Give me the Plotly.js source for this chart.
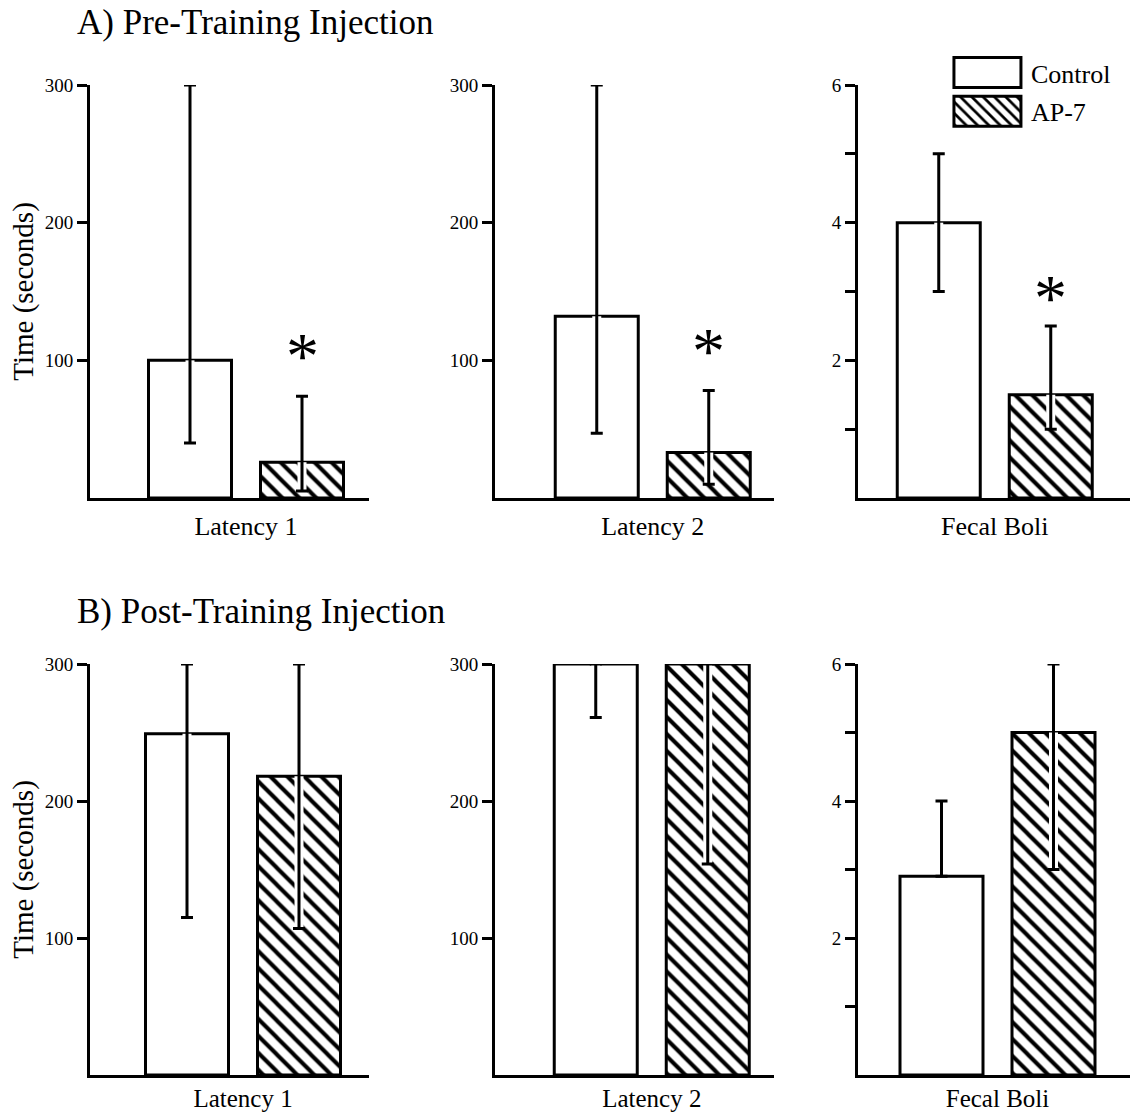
<!DOCTYPE html>
<html>
<head>
<meta charset="utf-8">
<script src="https://cdn.plot.ly/plotly-3.0.1.min.js"></script>
<style>
  html, body { margin: 0; padding: 0; background: #ffffff; overflow: hidden; }
  #chart { width: 1130px; height: 1116px; }
</style>
</head>
<body>
<div id="chart"></div>
<script>
// ---------------- data ----------------
const panels = ["Latency 1", "Latency 2", "Fecal Boli"];
const seriesNames = ["Control", "AP-7"];

// A) Pre-training injection: means, upper and lower ends of error bars
const preControl   = [100, 132, 4];
const preControlHi = [300, 300, 5];
const preControlLo = [40, 47, 3];
const preAP7       = [26, 33, 1.5];
const preAP7Hi     = [74, 78, 2.5];
const preAP7Lo     = [5, 10, 1.0];

// B) Post-training injection
const postControl   = [249, 300, 2.9];
const postControlHi = [300, 300, 4];
const postControlLo = [115, 261, 2.9];
const postAP7       = [218, 300, 5];
const postAP7Hi     = [300, 300, 6];
const postAP7Lo     = [107, 154, 3];

// significance marks (pre-training AP-7 vs control)
const preSignificant = [true, true, true];

// axis ticks
const latencyRange = [0, 300];
const latencyTickVals = [100, 200, 300];
const latencyTickText = ["100", "200", "300"];
const boliRange = [0, 6];
const boliTickVals = [1, 2, 3, 4, 5, 6];
const boliTickText = ["", "2", "", "4", "", "6"];

const rowTitles = ["A) Pre-Training Injection", "B) Post-Training Injection"];
const yTitle = "Time (seconds)";

// ---------------- layout geometry ----------------
const W = 1130, H = 1116;
const FONT = "Liberation Serif, 'Times New Roman', Times, serif";
const colPx = [[90, 369], [495, 774], [858, 1130]];
const rowPx = [[85, 498], [664, 1075]]; // [top, bottom] in px
const pxPerUnit = 280;
const groupMid = [[246, 652.75, 994.75], [243, 651.75, 997.5]];
const labelStandoff = [3, -1];

const rows = [
  {ctrl: preControl, ctrlHi: preControlHi, ctrlLo: preControlLo, ap: preAP7, apHi: preAP7Hi, apLo: preAP7Lo},
  {ctrl: postControl, ctrlHi: postControlHi, ctrlLo: postControlLo, ap: postAP7, apHi: postAP7Hi, apLo: postAP7Lo}
];

const traces = [];
const layout = {
  width: W, height: H,
  margin: {l: 0, r: 0, t: 0, b: 0, autoexpand: false},
  paper_bgcolor: "#ffffff",
  plot_bgcolor: "rgba(0,0,0,0)",
  font: {family: FONT, color: "#000000", size: 19},
  barmode: "group",
  bargap: 0.2,
  bargroupgap: 0.259,
  showlegend: true,
  legend: {
    x: 0.8327, xanchor: "left",
    y: 0.956, yanchor: "top",
    font: {family: FONT, size: 26, color: "#000"},
    itemwidth: 80,
    tracegroupgap: 2,
    traceorder: "grouped",
    bgcolor: "rgba(0,0,0,0)"
  },
  annotations: [],
  hovermode: false
};

const hatch = {shape: "\\", fgcolor: "#000000", bgcolor: "#ffffff", size: 12, solidity: 0.34, fillmode: "replace"};

for (let r = 0; r < 2; r++) {
  for (let p = 0; p < 3; p++) {
    const n = r * 3 + p + 1;
    const xa = n === 1 ? "x" : "x" + n;
    const ya = n === 1 ? "y" : "y" + n;
    const d = rows[r];
    const isBoli = p === 2;
    const series = [
      {name: seriesNames[0], v: d.ctrl[p], hi: d.ctrlHi[p], lo: d.ctrlLo[p], pattern: null},
      {name: seriesNames[1], v: d.ap[p], hi: d.apHi[p], lo: d.apLo[p], pattern: hatch}
    ];
    series.forEach((s, si) => {
      const mk = {color: "#ffffff", line: {color: "#000000", width: 3}};
      if (s.pattern) mk.pattern = s.pattern;
      // the bar
      traces.push({
        type: "bar", x: [panels[p]], y: [s.v], name: s.name,
        xaxis: xa, yaxis: ya, offsetgroup: "g" + si,
        legendgroup: "lg" + si,
        showlegend: n === 1,
        marker: mk, hoverinfo: "skip"
      });
      // white halo around the part of the error bar that lies inside the bar
      traces.push({
        type: "bar", x: [panels[p]], y: [s.v], name: s.name,
        xaxis: xa, yaxis: ya, offsetgroup: "g" + si,
        legendgroup: "lg" + si, showlegend: false,
        marker: {color: "rgba(0,0,0,0)", line: {width: 0}},
        error_y: {type: "data", symmetric: false, array: [0], arrayminus: [s.v - s.lo],
                  color: "#ffffff", thickness: 9, width: 0},
        hoverinfo: "skip"
      });
      // the error bar
      traces.push({
        type: "bar", x: [panels[p]], y: [s.v], name: s.name,
        xaxis: xa, yaxis: ya, offsetgroup: "g" + si,
        legendgroup: "lg" + si, showlegend: false,
        marker: {color: "rgba(0,0,0,0)", line: {width: 0}},
        error_y: {type: "data", symmetric: false, array: [s.hi - s.v], arrayminus: [s.v - s.lo],
                  color: "#000000", thickness: 3, width: 6},
        hoverinfo: "skip"
      });
    });

    const mid = groupMid[r][p];
    const c0 = colPx[p][0], c1 = colPx[p][1];
    layout["xaxis" + (n === 1 ? "" : n)] = {
      domain: [c0 / W, c1 / W],
      anchor: ya,
      type: "category",
      range: [-(mid - c0) / pxPerUnit, (c1 - mid) / pxPerUnit],
      showline: true, linecolor: "#000000", linewidth: 3,
      showgrid: false, zeroline: false,
      ticks: "", ticklabelstandoff: labelStandoff[r],
      tickfont: {family: FONT, size: r === 0 ? 26 : 25, color: "#000"},
      fixedrange: true
    };
    layout["yaxis" + (n === 1 ? "" : n)] = {
      domain: [1 - rowPx[r][1] / H, 1 - rowPx[r][0] / H],
      anchor: xa,
      range: isBoli ? boliRange : latencyRange,
      tickmode: "array",
      tickvals: isBoli ? boliTickVals : latencyTickVals,
      ticktext: isBoli ? boliTickText : latencyTickText,
      showline: true, linecolor: "#000000", linewidth: 3,
      ticks: "outside", ticklen: 10, tickwidth: 3, tickcolor: "#000000",
      showgrid: false, zeroline: false,
      tickfont: {family: FONT, size: 19, color: "#000"},
      title: p === 0 ? {text: yTitle, font: {family: FONT, size: 29, color: "#000"}, standoff: 3} : {text: ""},
      fixedrange: true
    };

    if (r === 0 && preSignificant[p]) {
      layout.annotations.push({
        xref: xa, yref: ya, x: 0.2, y: d.apHi[p],
        text: "*", showarrow: false,
        xanchor: "center", yanchor: "bottom", yshift: isBoli ? -10 : 2,
        font: {family: FONT, size: 66, color: "#000"}
      });
    }
  }
}

// row titles
layout.annotations.push({
  xref: "paper", yref: "paper", x: 75 / W, y: 1 - 22 / H,
  xanchor: "left", yanchor: "middle", showarrow: false,
  text: rowTitles[0], font: {family: FONT, size: 35, color: "#000"}
});
layout.annotations.push({
  xref: "paper", yref: "paper", x: 75 / W, y: 1 - 611 / H,
  xanchor: "left", yanchor: "middle", showarrow: false,
  text: rowTitles[1], font: {family: FONT, size: 35, color: "#000"}
});

Plotly.newPlot("chart", traces, layout, {staticPlot: true, displayModeBar: false}).then(() => {
  // enlarge legend swatches to match the boxed keys of the figure
  document.querySelectorAll(".legend .traces").forEach(g => {
    const txt = g.querySelector(".legendtext");
    const tx = parseFloat(txt.getAttribute("x")) || 40;
    g.querySelectorAll(".legendpoints path").forEach(pth => {
      pth.removeAttribute("transform");
      pth.setAttribute("d", "M" + (tx - 77) + ",-15H" + (tx - 10) + "V15H" + (tx - 77) + "Z");
      pth.style.strokeWidth = "3px";
      pth.style.stroke = "#000";
    });
  });
});
</script>
</body>
</html>
